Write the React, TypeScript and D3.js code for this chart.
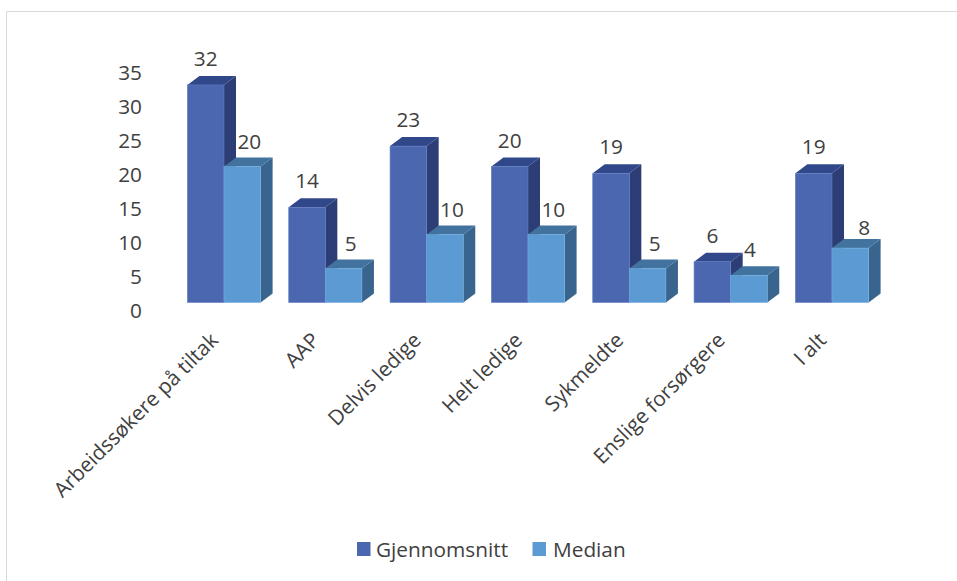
import React from "react";
import * as d3 from "d3";

const categories = ["Arbeidssøkere på tiltak", "AAP", "Delvis ledige", "Helt ledige", "Sykmeldte", "Enslige forsørgere", "I alt"];
const gjennomsnitt = [32, 14, 23, 20, 19, 6, 19];
const median = [20, 5, 10, 10, 5, 4, 8];
const yTicks = [0, 5, 10, 15, 20, 25, 30, 35];
const seriesNames = ["Gjennomsnitt", "Median"];

const W = 957;
const H = 581;
const FONT = "'Open Sans', sans-serif";
const FONT_SIZE = 20.8;
const TEXT = "#404040";
const DEPTH_X = 12;
const DEPTH_Y = 9;
const BAR_W = 36.6;

const y = d3.scaleLinear().domain([0, 35]).range([302.5, 64.5]);
// Each category is centred on the seam between its two bars.
const x = d3.scalePoint<string>().domain(categories).range([224, 832]);

const colors = [
  { front: "#4a67b0", side: "#2c3e75", top: "#30478a", edge: "#5f7cc4" },
  { front: "#5b9ad2", side: "#38648d", top: "#42739f", edge: "#74aee0" },
];

// Hand-placed data labels, as the spreadsheet moves them off crowded bars.
const medianLabelShift: Record<string, [number, number]> = {
  "Enslige forsørgere": [1, 0],
  "I alt": [14, 5],
};

function Bar3D({ left, value, s }: { left: number; value: number; s: number }) {
  const t = y(value);
  const b = y(0);
  const r = left + BAR_W;
  const c = colors[s];
  const top = d3.path();
  top.moveTo(left, t);
  top.lineTo(left + DEPTH_X, t - DEPTH_Y);
  top.lineTo(r + DEPTH_X, t - DEPTH_Y);
  top.lineTo(r, t);
  top.closePath();
  const side = d3.path();
  side.moveTo(r, t);
  side.lineTo(r + DEPTH_X, t - DEPTH_Y);
  side.lineTo(r + DEPTH_X, b - DEPTH_Y);
  side.lineTo(r, b);
  side.closePath();
  return (
    <g>
      <path d={side.toString()} fill={c.side} />
      <path d={top.toString()} fill={c.top} />
      <rect x={left} y={t} width={BAR_W} height={b - t} fill={c.front} stroke={c.edge} strokeWidth={0.6} />
    </g>
  );
}

export default function App() {
  return (
    <svg
      width={W}
      height={H}
      viewBox={`0 0 ${W} ${H}`}
      style={{ position: "absolute", left: 0, top: 0, background: "#fff", fontFamily: FONT }}
    >
      <path d="M6.5 581V11.5H957" fill="none" stroke="#d9d9d9" strokeWidth={1} />

      {yTicks.map((v) => (
        <text key={v} x={142} y={y(v) + 7} textAnchor="end" dominantBaseline="central" fontSize={FONT_SIZE} fill={TEXT}>
          {v}
        </text>
      ))}

      {categories.map((c, i) => {
        const left = x(c)! - BAR_W;
        const shift = medianLabelShift[c] ?? [7, 0];
        return (
          <g key={c}>
            <Bar3D left={left} value={gjennomsnitt[i]} s={0} />
            <Bar3D left={left + BAR_W} value={median[i]} s={1} />
            <text x={left + BAR_W / 2} y={y(gjennomsnitt[i]) - 27} textAnchor="middle" dominantBaseline="central" fontSize={FONT_SIZE} fill={TEXT}>
              {gjennomsnitt[i]}
            </text>
            <text
              x={left + BAR_W * 1.5 + shift[0]}
              y={y(median[i]) - 26 + shift[1]}
              textAnchor="middle"
              dominantBaseline="central"
              fontSize={FONT_SIZE}
              fill={TEXT}
            >
              {median[i]}
            </text>
            <text
              transform={`translate(${x(c)! - 4.5},${341.5}) rotate(-45)`}
              textAnchor="end"
              fontSize={FONT_SIZE}
              fill={TEXT}
            >
              {c}
            </text>
          </g>
        );
      })}

      <g fontSize={FONT_SIZE} fill={TEXT}>
        <rect x={357} y={542} width={13.5} height={14} fill={colors[0].front} />
        <text x={376} y={548.5} dominantBaseline="central">{seriesNames[0]}</text>
        <rect x={532.5} y={542} width={13.5} height={14} fill={colors[1].front} />
        <text x={553} y={548.5} dominantBaseline="central">{seriesNames[1]}</text>
      </g>
    </svg>
  );
}
